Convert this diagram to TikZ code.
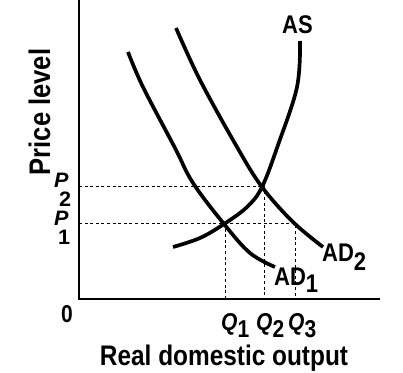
\documentclass[tikz,border=0pt]{standalone}
\usepackage{fontspec}
\usepackage{graphicx}
\setmainfont{Liberation Sans}
\newcommand{\vstretch}[1]{\scalebox{1}[1.16]{#1}}
\newcommand{\pstretch}[1]{\scalebox{1.2}[1.16]{#1}}
\begin{document}
\begin{tikzpicture}[x=1pt,y=-1pt,
  curve/.style={line width=3.7pt},
  axis/.style={line width=1.3pt},
  guide/.style={line width=0.9pt, dash pattern=on 3pt off 2.6pt},
  big/.style={font=\fontsize{24.4}{26}\selectfont\bfseries, inner sep=0pt},
  mid/.style={font=\fontsize{22}{24}\selectfont\bfseries, inner sep=0pt},
  small/.style={font=\fontsize{21}{23}\selectfont\bfseries, inner sep=0pt},
  plab/.style={font=\fontsize{18}{20}\selectfont\bfseries, inner sep=0pt}]
\useasboundingbox (0,0) rectangle (403,372);
\fill[white] (0,0) rectangle (403,372);
% axes
\coordinate (top) at (79,0);
\coordinate (o) at (79,299);
\coordinate (right) at (380,299);
\draw[axis] (top) -- (o) -- (right);
% guide coordinates
\coordinate (p2l) at (79,186);
\coordinate (p2r) at (264,186);
\coordinate (p1l) at (79,223);
\coordinate (p1r) at (295,223);
\coordinate (q1t) at (225,223);
\coordinate (q1b) at (225,299);
\coordinate (q2b) at (264,299);
\coordinate (q3b) at (295,299);
\draw[guide] (p2l) -- (p2r) -- (q2b);
\draw[guide] (p1l) -- (p1r) -- (q3b);
\draw[guide] (q1t) -- (q1b);
% curves
\draw[curve] plot[smooth, tension=0.6] coordinates {(128,52) (143,87) (175,148) (193,183) (224,224) (250,253) (275,267)};
\draw[curve] plot[smooth, tension=0.6] coordinates {(176,28) (200,80) (237,147) (262,187) (293,222) (323,247)};
\draw[curve] plot[smooth, tension=0.6] coordinates {(173,247) (200,238) (224,224) (247,207) (262,187) (278,145) (297,87) (300,41)};
% labels
\node[mid, anchor=base] (as) at (297.5,33) {\vstretch{AS}};
\node[mid, anchor=base west] (ad1) at (274,285) {\vstretch{AD}\raisebox{-7pt}{\vstretch{1}}};
\node[mid, anchor=base west] (ad2) at (322,261) {\vstretch{AD}\raisebox{-9pt}{\vstretch{2}}};
\node[small, anchor=base] (zero) at (67,322) {\vstretch{0}};
\node[small, anchor=base west] (q1) at (221,330) {\vstretch{\textit{Q}}\raisebox{-7pt}{\vstretch{1}}};
\node[small, anchor=base west] (q2) at (256,330) {\vstretch{\textit{Q}}\raisebox{-7pt}{\vstretch{2}}};
\node[small, anchor=base west] (q3) at (288,330) {\vstretch{\textit{Q}}\raisebox{-7pt}{\vstretch{3}}};
\node[plab, anchor=base west] (p2) at (54,187) {\pstretch{\textit{P}}};
\node[plab, anchor=base west] (p2s) at (59,206) {\pstretch{2}};
\node[plab, anchor=base west] (p1) at (54,225) {\pstretch{\textit{P}}};
\node[plab, anchor=base west] (p1s) at (58,244) {\pstretch{1}};
\node[big, anchor=base] (ylab) at (50,112) [rotate=90] {\scalebox{1.05}[1.22]{Price level}};
\node[big, anchor=base] (xlab) at (224,365) {\vstretch{Real domestic output}};
\end{tikzpicture}
\end{document}
